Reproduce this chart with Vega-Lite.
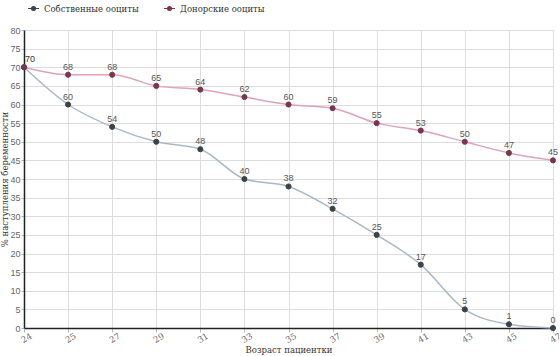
{
  "$schema": "https://vega.github.io/schema/vega-lite/v6.json",
  "autosize": {"type": "none"},
  "width": 529,
  "height": 298,
  "padding": {"left": 24, "top": 30, "right": 7, "bottom": 28},
  "background": "white",
  "config": {
    "view": {"stroke": null},
    "axis": {"gridColor": "#dddddd", "gridWidth": 1, "domainColor": "#222222", "domainWidth": 1.5, "tickColor": "#bbbbbb", "tickSize": 4, "labelColor": "#666666", "labelFontSize": 9, "titleFont": "DejaVu Serif", "titleFontWeight": "normal", "titleFontSize": 8.5, "titleColor": "#333333"}
  },
  "data": {"values": [
    {"age": "24", "series": "Собственные ооциты", "value": 70, "lbl": ""},
    {"age": "25", "series": "Собственные ооциты", "value": 60, "lbl": "60"},
    {"age": "27", "series": "Собственные ооциты", "value": 54, "lbl": "54"},
    {"age": "29", "series": "Собственные ооциты", "value": 50, "lbl": "50"},
    {"age": "31", "series": "Собственные ооциты", "value": 48, "lbl": "48"},
    {"age": "33", "series": "Собственные ооциты", "value": 40, "lbl": "40"},
    {"age": "35", "series": "Собственные ооциты", "value": 38, "lbl": "38"},
    {"age": "37", "series": "Собственные ооциты", "value": 32, "lbl": "32"},
    {"age": "39", "series": "Собственные ооциты", "value": 25, "lbl": "25"},
    {"age": "41", "series": "Собственные ооциты", "value": 17, "lbl": "17"},
    {"age": "43", "series": "Собственные ооциты", "value": 5, "lbl": "5"},
    {"age": "45", "series": "Собственные ооциты", "value": 1, "lbl": "1"},
    {"age": "47", "series": "Собственные ооциты", "value": 0, "lbl": "0"},
    {"age": "24", "series": "Донорские ооциты", "value": 70, "lbl": ""},
    {"age": "25", "series": "Донорские ооциты", "value": 68, "lbl": "68"},
    {"age": "27", "series": "Донорские ооциты", "value": 68, "lbl": "68"},
    {"age": "29", "series": "Донорские ооциты", "value": 65, "lbl": "65"},
    {"age": "31", "series": "Донорские ооциты", "value": 64, "lbl": "64"},
    {"age": "33", "series": "Донорские ооциты", "value": 62, "lbl": "62"},
    {"age": "35", "series": "Донорские ооциты", "value": 60, "lbl": "60"},
    {"age": "37", "series": "Донорские ооциты", "value": 59, "lbl": "59"},
    {"age": "39", "series": "Донорские ооциты", "value": 55, "lbl": "55"},
    {"age": "41", "series": "Донорские ооциты", "value": 53, "lbl": "53"},
    {"age": "43", "series": "Донорские ооциты", "value": 50, "lbl": "50"},
    {"age": "45", "series": "Донорские ооциты", "value": 47, "lbl": "47"},
    {"age": "47", "series": "Донорские ооциты", "value": 45, "lbl": "45"}
  ]},
  "encoding": {
    "x": {"field": "age", "type": "ordinal", "sort": ["24","25","27","29","31","33","35","37","39","41","43","45","47"], "scale": {"type": "point", "padding": 0},
      "axis": {"title": "Возраст пациентки", "labelAngle": -30, "labelAlign": "center", "labelBaseline": "top", "labelFont": "DejaVu Serif", "labelFontSize": 8.5, "labelPadding": 2, "titlePadding": 1, "grid": true}},
    "y": {"field": "value", "type": "quantitative", "scale": {"domain": [0, 80]},
      "axis": {"title": "% наступления беременности", "values": [0,5,10,15,20,25,30,35,40,45,50,55,60,65,70,75,80], "labelPadding": 1, "titlePadding": 0, "tickSize": 3}}
  },
  "layer": [
    {
      "mark": {"type": "line", "interpolate": "monotone", "strokeWidth": 1.5},
      "encoding": {
        "color": {"field": "series", "type": "nominal", "legend": null,
          "scale": {"domain": ["Собственные ооциты", "Донорские ооциты"], "range": ["#aab8c6", "#e0a2b4"]}}
      }
    },
    {
      "mark": {"type": "point", "size": 26, "opacity": 1, "strokeWidth": 1},
      "encoding": {
        "fill": {"field": "series", "type": "nominal",
          "scale": {"domain": ["Собственные ооциты", "Донорские ооциты"], "range": ["#3b424a", "#7a3550"]},
          "legend": {"title": null, "orient": "none", "legendX": 3, "legendY": -28, "direction": "horizontal", "labelFont": "DejaVu Serif", "labelFontSize": 8.5, "labelColor": "#333333", "symbolType": "M-1,0L1,0M0.35,0A0.35,0.35,0,1,1,-0.35,0A0.35,0.35,0,1,1,0.35,0Z", "symbolSize": 120, "symbolStrokeWidth": 1.2, "columnPadding": 22}
        },
        "stroke": {"field": "series", "type": "nominal",
          "scale": {"domain": ["Собственные ооциты", "Донорские ооциты"], "range": ["#3b424a", "#7a3550"]},
          "legend": {"title": null, "orient": "none", "legendX": 3, "legendY": -28, "direction": "horizontal", "labelFont": "DejaVu Serif", "labelFontSize": 8.5, "labelColor": "#333333", "symbolType": "M-1,0L1,0M0.35,0A0.35,0.35,0,1,1,-0.35,0A0.35,0.35,0,1,1,0.35,0Z", "symbolSize": 120, "symbolStrokeWidth": 1.2, "columnPadding": 22}
        }
      }
    },
    {
      "mark": {"type": "text", "dy": -8, "fontSize": 9, "color": "#555555"},
      "encoding": {"text": {"field": "lbl", "type": "nominal"}}
    },
    {
      "transform": [{"filter": "datum.age == '24' && datum.series == 'Донорские ооциты'"}],
      "mark": {"type": "text", "dy": -8, "dx": 6, "fontSize": 9, "color": "#333333"},
      "encoding": {"text": {"field": "value", "type": "quantitative"}}
    }
  ],
  "resolve": {"scale": {"color": "independent"}}
}
